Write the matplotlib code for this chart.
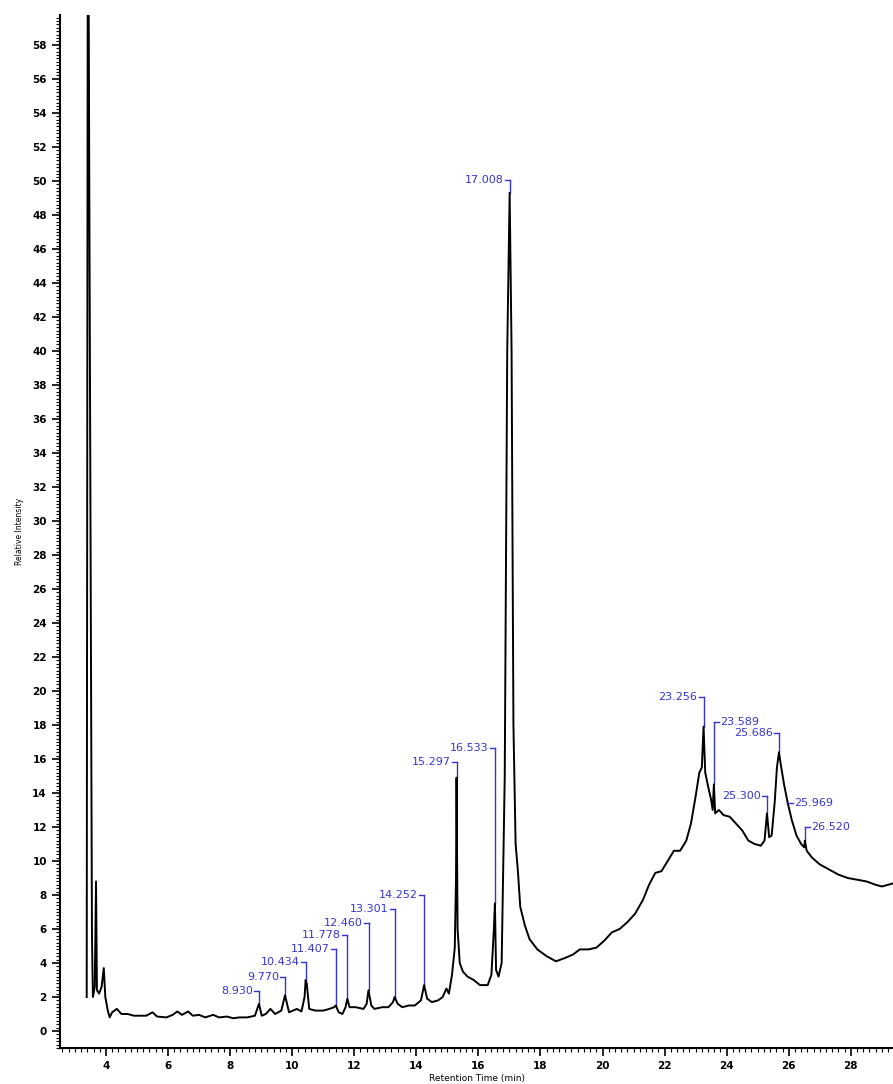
import numpy as np
import matplotlib
matplotlib.use("Agg")
import matplotlib.pyplot as plt
from matplotlib.ticker import MultipleLocator

# chromatogram trace (retention time in min, relative intensity)
rt = [3.38, 3.42, 3.46, 3.55, 3.58, 3.64, 3.68, 3.71, 3.78, 3.86, 3.93, 3.98,
      4.06, 4.12, 4.20, 4.35, 4.50, 4.70, 4.90, 5.10, 5.30, 5.50, 5.65, 5.95,
      6.15, 6.30, 6.45, 6.65, 6.80, 7.00, 7.20, 7.45, 7.65, 7.90, 8.10, 8.30,
      8.55, 8.80, 8.93, 9.02, 9.15, 9.30, 9.45, 9.65, 9.77, 9.90, 10.15, 10.30,
      10.40, 10.434, 10.47, 10.55, 10.75, 11.00, 11.20, 11.35, 11.407, 11.50,
      11.62, 11.72, 11.778, 11.85, 12.05, 12.30, 12.40, 12.46, 12.55, 12.65,
      12.90, 13.10, 13.25, 13.301, 13.40, 13.55, 13.75, 13.95, 14.15, 14.252,
      14.35, 14.50, 14.70, 14.85, 14.97, 15.05, 15.15, 15.24, 15.28, 15.297,
      15.33, 15.40, 15.50, 15.65, 15.85, 16.05, 16.30, 16.42, 16.50, 16.533,
      16.57, 16.65, 16.75, 16.85, 16.93, 17.008, 17.07, 17.13, 17.20, 17.27,
      17.35, 17.50, 17.65, 17.90, 18.20, 18.50, 18.80, 19.05, 19.27, 19.55,
      19.80, 20.05, 20.30, 20.55, 20.80, 21.05, 21.30, 21.50, 21.70, 21.90,
      22.10, 22.30, 22.50, 22.70, 22.85, 23.00, 23.12, 23.20, 23.256, 23.31,
      23.40, 23.50, 23.55, 23.589, 23.63, 23.75, 23.90, 24.10, 24.30, 24.50,
      24.70, 24.90, 25.10, 25.22, 25.30, 25.37, 25.45, 25.55, 25.62, 25.686,
      25.75, 25.85, 25.969, 26.10, 26.25, 26.40, 26.50, 26.52, 26.58, 26.75,
      27.00, 27.30, 27.60, 27.90, 28.20, 28.50, 28.80, 29.00, 29.20, 29.40]
intensity = [2.0, 75.0, 51.5, 5.5, 2.0, 2.6, 8.8, 2.4, 2.2, 2.6, 3.7, 2.0,
             1.2, 0.8, 1.1, 1.3, 1.0, 1.0, 0.9, 0.9, 0.9, 1.1, 0.85, 0.8,
             0.95, 1.15, 0.95, 1.15, 0.9, 0.95, 0.8, 0.95, 0.8, 0.85, 0.75, 0.8,
             0.8, 0.9, 1.6, 0.9, 1.0, 1.3, 1.0, 1.2, 2.1, 1.1, 1.3, 1.15,
             2.0, 3.0, 2.8, 1.3, 1.2, 1.2, 1.3, 1.4, 1.5, 1.1,
             1.0, 1.4, 1.9, 1.4, 1.4, 1.3, 1.6, 2.4, 1.5, 1.3,
             1.4, 1.4, 1.7, 2.0, 1.6, 1.4, 1.5, 1.5, 1.8, 2.7,
             1.9, 1.7, 1.8, 2.0, 2.5, 2.2, 3.3, 4.9, 9.0, 14.9,
             6.0, 4.0, 3.5, 3.2, 3.0, 2.7, 2.7, 3.3, 6.0, 7.5,
             3.6, 3.2, 4.0, 15.0, 40.0, 49.3, 40.0, 18.0, 11.0, 9.5,
             7.3, 6.2, 5.4, 4.8, 4.4, 4.1, 4.3, 4.5, 4.8, 4.8,
             4.9, 5.3, 5.8, 6.0, 6.4, 6.9, 7.7, 8.6, 9.3, 9.4,
             10.0, 10.6, 10.6, 11.2, 12.2, 13.8, 15.2, 15.5, 17.9, 15.2,
             14.4, 13.6, 13.0, 14.5, 12.8, 13.0, 12.7, 12.6, 12.2, 11.8,
             11.2, 11.0, 10.9, 11.2, 12.8, 11.4, 11.5, 13.5, 15.5, 16.4,
             15.6, 14.5, 13.4, 12.4, 11.5, 11.0, 10.8, 11.2, 10.6, 10.2,
             9.8, 9.5, 9.2, 9.0, 8.9, 8.8, 8.6, 8.5, 8.6, 8.7]

# labelled peaks
peak_rt = [8.930, 9.770, 10.434, 11.407, 11.778, 12.460, 13.301, 14.252,
           15.297, 16.533, 17.008, 23.256, 23.589, 25.300, 25.686, 25.969, 26.520]
peak_text = ["8.930", "9.770", "10.434", "11.407", "11.778", "12.460", "13.301",
             "14.252", "15.297", "16.533", "17.008", "23.256", "23.589",
             "25.300", "25.686", "25.969", "26.520"]
# height at which each label sits, and on which side of the peak
label_y = [2.35, 3.2, 4.05, 4.8, 5.65, 6.35, 7.2, 8.0,
           15.8, 16.65, 50.05, 19.65, 18.2, 13.8, 17.5, 13.4, 12.0]
label_side = ["l", "l", "l", "l", "l", "l", "l", "l",
              "l", "l", "l", "l", "r", "l", "l", "r", "r"]

y_ticks = list(range(0, 60, 2))
x_ticks = list(range(4, 30, 2))

blue = "#3535cf"

fig = plt.figure(figsize=(8.93, 10.84), dpi=100)
ax = fig.add_axes([0.0672, 0.0332, 0.9328, 0.953])

ax.plot(rt, intensity, color="black", lw=1.4)

peak_h = np.interp(peak_rt, rt, intensity)
for x, t, ly, side, h in zip(peak_rt, peak_text, label_y, label_side, peak_h):
    ax.plot([x, x], [ly, h], color=blue, lw=1.0, zorder=1)
    if side == "l":
        ax.plot([x - 0.16, x], [ly, ly], color=blue, lw=1.0)
        ax.text(x - 0.2, ly, t, color=blue, fontsize=8, ha="right", va="center")
    else:
        ax.plot([x, x + 0.16], [ly, ly], color=blue, lw=1.0)
        ax.text(x + 0.2, ly, t, color=blue, fontsize=8, ha="left", va="center")

ax.set_xlim(2.52, 29.36)
ax.set_ylim(-1, 59.76)
ax.set_xticks(x_ticks)
ax.set_yticks(y_ticks)
ax.xaxis.set_minor_locator(MultipleLocator(0.2))
ax.yaxis.set_minor_locator(MultipleLocator(0.2))
ax.tick_params(which="major", length=6, width=1.2, labelsize=7.5)
ax.tick_params(which="minor", length=3, width=0.8)
for lab in ax.get_xticklabels() + ax.get_yticklabels():
    lab.set_fontweight("bold")

for s in ["top", "right"]:
    ax.spines[s].set_visible(False)
for s in ["left", "bottom"]:
    ax.spines[s].set_linewidth(1.5)

ax.set_xlabel("Retention Time (min)", fontsize=6.5, labelpad=2)
ax.set_ylabel("Relative Intensity", fontsize=5.5, labelpad=6)

fig.savefig("out.png", dpi=100)
